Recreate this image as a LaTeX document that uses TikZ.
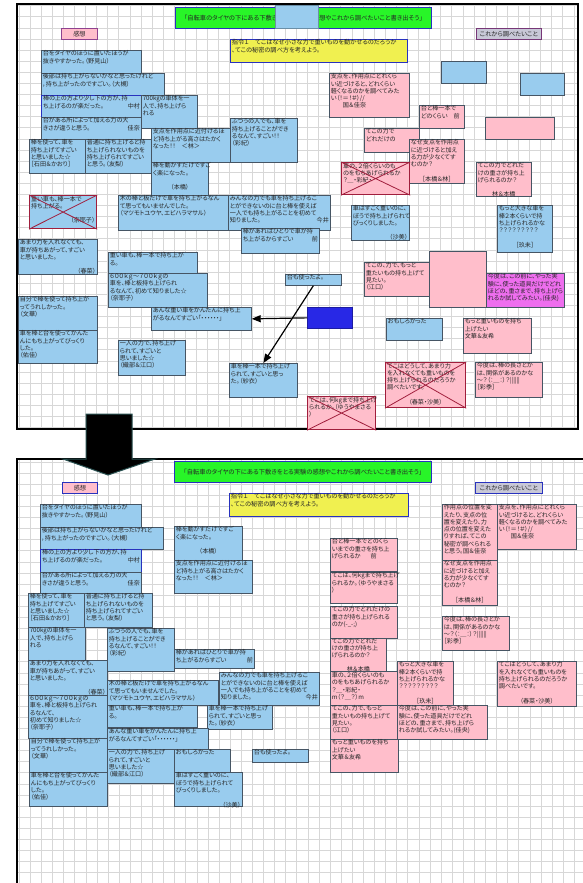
\documentclass[tikz,border=0pt]{standalone}
\usepackage{fontspec}
\usepackage{tikz}
\usetikzlibrary{arrows.meta}
\newfontfamily\jp[RawFeature=+palt]{Noto Sans CJK JP}
\definecolor{bluenote}{RGB}{153,204,238}
\definecolor{pinknote}{RGB}{255,190,203}
\definecolor{magnote}{RGB}{238,110,238}
\definecolor{notebd}{RGB}{70,85,100}
\definecolor{headbd}{RGB}{40,50,190}
\definecolor{titlegreen}{RGB}{40,245,40}
\definecolor{orderyellow}{RGB}{240,240,80}
\definecolor{koregray}{RGB}{200,200,215}
\definecolor{darkbox}{RGB}{40,40,230}
\definecolor{crossred}{RGB}{160,30,60}
\definecolor{gridgray}{RGB}{215,215,215}
\definecolor{arrowedge}{RGB}{40,80,80}
\tikzset{
    gridline/.style = {draw=gridgray, line width=0.5pt},
    note/.style = {draw=notebd, line width=0.7pt, text=black!85, font=\jp\fontsize{6.1}{7.3}\selectfont},
    bnote/.style = {note, fill=bluenote},
    bsel/.style = {bnote, draw=headbd, line width=1pt},
    pnote/.style = {note, fill=pinknote},
    mnote/.style = {note, fill=magnote},
    xbnote/.style = {bnote, draw=crossred, line width=1.2pt},
    xpnote/.style = {pnote, draw=crossred, line width=1.2pt},
    head/.style = {draw=headbd, line width=0.9pt, text=black!85, font=\jp\fontsize{6.2}{7.9}\selectfont},
    pointer/.style = {draw, line width=1.2pt, -{Triangle[length=9pt,width=7pt]}},
    cross/.style = {draw=crossred, line width=0.8pt},
}
% sticky note: style, name, x1, y1, x2, y2, text
\newcommand{\stick}[7]{%
    \node[#1, anchor=north west, inner sep=0pt,
          minimum width={#5pt-#3pt}, minimum height={#6pt-#4pt}] (#2) at (#3,#4)
        {\parbox[c][\dimexpr#6pt-#4pt\relax][t]{\dimexpr#5pt-#3pt-3pt\relax}{\raggedright\vspace*{0.3pt}#7}};}
% one-line heading box
\newcommand{\headbox}[7]{%
    \node[#1, anchor=north west, inner sep=0pt,
          minimum width={#5pt-#3pt}, minimum height={#6pt-#4pt}] (#2) at (#3,#4) {#7};}
\newcommand{\crossout}[1]{\draw[cross] (#1.north west) -- (#1.south east) (#1.north east) -- (#1.south west);}

\begin{document}
\begin{tikzpicture}[x=1pt, y=-1pt]
    \useasboundingbox (0,0) rectangle (583,883);
    \fill[white] (0,0) rectangle (583,883);

    % upper sheet (before)
    \begin{scope}
        \clip (17,4) rectangle (578,429);
        \foreach \k in {0,...,51} \draw[gridline] ({7.7+11.1*\k},4) -- ({7.7+11.1*\k},429);
        \foreach \k in {0,...,38} \draw[gridline] (17,{5.6+11.1*\k}) -- (578,{5.6+11.1*\k});
    \end{scope}
    \draw[line width=1.5pt] (17,4) rectangle (578,429);

    \headbox{head, fill=titlegreen, font=\jp\fontsize{6.3}{7.9}\selectfont}{ttitle}{175}{7}{431}{28}{「自転車のタイヤの下にある下敷きをとる実験の感想やこれから調べたいこと書き出そう」}
    \headbox{note, fill=bluenote, draw=bluenote!70!black}{tblank}{275}{5}{318}{28}{}
    \headbox{head, fill=pinknote, draw=magnote!60!black}{tkanso}{61}{28}{97}{39}{感想}
    \headbox{head, fill=koregray, draw=magnote!50!black}{tkore}{476}{28}{541}{39}{これから調べたいこと}
    \stick{head, fill=orderyellow}{tshirei}{230}{39}{407}{62}{指令１　てこはなぜ小さな力で重いものを動かせるのだろうか\\、てこの秘密の調べ方を考えよう。}

    \stick{bnote}{ta1}{41}{50}{141}{73}{台をタイヤのほうに置いたほうが\\抜きやすかった。（野見山）}
    \stick{bnote}{ta2}{41}{73}{164}{95}{後部は持ち上がらないかなと思ったけれど\\，持ち上がったのですごい。（大槻）}
    \stick{bsel}{ta3}{41}{95}{141}{117}{棒の上の方より少し下の方が、持\\ち上げるのが楽だった。\hfill 中村\hspace{4pt}}
    \stick{bnote}{ta4}{141}{95}{197}{128}{700kgの車体を一\\人で、持ち上げら\\れる}
    \stick{bnote}{ta5}{41}{117}{141}{139}{台がある所によって加える力の大\\きさが違うと思う。\hfill 佳奈\hspace{4pt}}
    \stick{bnote}{ta6}{29}{139}{85}{173}{棒を使って、車を\\持ち上げてすごい\\と思いました☆\\［石田＆かおり］}
    \stick{bnote}{ta7}{85}{139}{151}{173}{普通に持ち上げると持\\ち上げられないものを\\持ち上げられてすごい\\と思う。（友梨）}
    \stick{bnote}{ta8}{151}{128}{230}{162}{支点を作用点に近付けるほ\\ど持ち上がる高さはたかく\\なった！！　＜林＞}
    \stick{bnote}{ta9}{230}{118}{297}{162}{ふつうの人でも、車を\\持ち上げることができ\\るなんて、すごい！！\\（彩紀）}
    \stick{bnote}{ta10}{151}{162}{208}{197}{棒を動かすだけですご\\く楽になった。\\\null\hfill（本橋）\hfill\null}
    \stick{xbnote}{ta11}{29}{195}{96}{228}{重い車も、棒一本で\\持ち上がる。\\\null\hfill（奈耶子）}
    \crossout{ta11}
    \stick{bnote}{ta12}{118}{195}{228}{230}{木の棒と板だけで車を持ち上がるなん\\て思ってもいませんでした。\\（マツモトユウヤ、エビハラマサル）}
    \stick{bnote}{ta13}{228}{195}{330}{230}{みんなの力でも車を持ち上げるこ\\とができないのに台と棒を使えば\\一人でも持ち上がることを初めて\\知りました。\hfill 今井\hspace{6pt}}
    \stick{bnote}{ta14}{241}{228}{319}{253}{棒があればひとりで車が持\\ち上がるからすごい\hfill 前\hspace{4pt}}
    \stick{bnote}{ta15}{18}{239}{97}{274}{あまり力を入れなくても、\\車が持ちあがって、すごい\\と思いました。\\\null\hfill（春菜）\hspace{8pt}}
    \stick{bnote}{ta16}{108}{252}{197}{273}{重い車も、棒一本で持ち上が\\る。}
    \stick{bnote}{ta17}{108}{273}{207}{307}{６００ｋｇ～７００ｋｇの\\車を、棒と板持ち上げられ\\るなんて、初めて知りました☆\\（奈耶子）}
    \stick{bnote}{ta18}{151}{307}{251}{330}{あんな重い車をかんたんに持ち上\\がるなんてすごい「・・・・・・」}
    \stick{bnote}{ta19}{18}{296}{97}{330}{自分で棒を使って持ち上が\\ってうれしかった。\\（文華）}
    \stick{bnote}{ta20}{18}{330}{97}{363}{車を棒と台を使ってかんた\\んにもち上がってびっくり\\した。\\（佑佳）}
    \stick{bnote}{ta21}{118}{340}{185}{375}{一人の力で、持ち上げ\\られて、すごいと\\思いました☆\\（織部＆江口）}
    \stick{bnote}{ta22}{229}{363}{297}{397}{車を棒一本で持ち上げ\\られて、すごいと思っ\\た。（紗衣）}
    \stick{bnote}{ta23}{285}{274}{341}{285}{台も使ったよ。}
    \stick{bnote}{ta24}{351}{205}{409}{240}{車はすごく重いのに、\\ぼうで持ち上げられて\\びっくりしました。\\\null\hfill（沙美）}
    \stick{bnote}{ta25}{386}{318}{442}{340}{おもしろかった}
    \stick{bnote}{ta26}{497}{205}{552}{252}{もっと大きな車を\\棒２本くらいで持\\ち上げられるかな\\？？？？？？？？？\\\null\hfill［玖未］\hfill\null}
    \headbox{bnote}{ta27}{441}{61}{486}{83}{}
    \headbox{bnote}{ta28}{520}{73}{564}{95}{}
    \headbox{note, fill=darkbox, draw=darkbox!70!black}{tdark}{307}{307}{352}{328}{}

    \stick{pnote}{tp1}{329}{73}{409}{117}{支点を、作用点にどれくら\\い近づけると、どれくらい\\軽くなるのかを調べてみた\\い（！＝！＃）//\\\hspace{12pt}国＆佳奈}
    \stick{pnote}{tp2}{419}{105}{464}{128}{台と棒一本で\\どのくらい　前}
    \stick{pnote}{tp3}{364}{128}{419}{152}{てこの力で\\どれだけの}
    \stick{pnote}{tp4}{409}{139}{464}{183}{なぜ支点を作用点\\に近づけると加え\\る力が少なくてす\\むのか？\\\null\hfill［本橋＆林］\hfill\null}
    \stick{xpnote}{tp5}{341}{162}{409}{194}{車の、２倍くらいのも\\のをもちあげられるか\\？＿・彩紀・}
    \crossout{tp5}
    \headbox{pnote}{tp6}{485}{117}{554}{139}{}
    \stick{pnote}{tp7}{476}{162}{531}{196}{てこの力でどれだ\\けの重さが持ち上\\げられるのか？\\\null\hfill 林＆本橋\hfill\null}
    \stick{pnote}{tp8}{364}{262}{430}{296}{てこの、力で、もっと\\重たいもの持ち上げて\\見たい。\\（江口）}
    \headbox{pnote}{tp9}{429}{251}{486}{307}{}
    \stick{mnote}{tp10}{486}{273}{564}{307}{今度は、この前に、やった実\\験に、使った道具だけでどれ\\ほどの、重さまで、持ち上げら\\れるか試してみたい。(佳央)}
    \stick{pnote}{tp11}{463}{318}{531}{353}{もっと重いものを持ち\\上げたい\\文華＆友希}
    \stick{xpnote}{tp12}{385}{362}{465}{407}{てこはどうして、あまり力\\を入れなくても重いものを\\持ち上げられるのだろうか\\調べたいです。\\\null\hfill（春菜・沙美）\hfill\null}
    \crossout{tp12}
    \stick{pnote}{tp13}{475}{362}{542}{397}{今度は、棒の長さとか\\は、関係があるのかな\\～？（：＿：）？||||||\\［彩季］}
    \stick{xpnote}{tp14}{307}{396}{375}{429}{てこは、何kgまで持ち上げ\\られるか。（ゆうやまさる\\）}
    \crossout{tp14}

    \draw[pointer] (tdark.west) -- (ta18.east);
    \draw[pointer] (ta23.south) -- (ta22.north);

    % lower sheet (after)
    \begin{scope}
        \clip (17,459) rectangle (583,883);
        \foreach \k in {0,...,52} \draw[gridline] ({8.1+11.1*\k},459) -- ({8.1+11.1*\k},883);
        \foreach \k in {41,...,79} \draw[gridline] (17,{6.8+11.1*\k}) -- (583,{6.8+11.1*\k});
    \end{scope}
    \draw[line width=2pt] (17,883) -- (17,459) -- (583,459);

    \headbox{head, fill=titlegreen, font=\jp\fontsize{6.3}{7.9}\selectfont}{title}{174}{461}{431}{482}{「自転車のタイヤの下にある下敷きをとる実験の感想やこれから調べたいこと書き出そう」}
    \headbox{head, fill=pinknote}{kanso}{62}{482}{97}{493}{感想}
    \headbox{head, fill=koregray}{kore}{475}{482}{542}{493}{これから調べたいこと}
    \stick{head, fill=orderyellow}{shirei}{229}{493}{408}{516}{指令１　てこはなぜ小さな力で重いものを動かせるのだろうか\\、てこの秘密の調べ方を考えよう。}

    \stick{bnote}{b1}{40}{504}{141}{527}{台をタイヤのほうに置いたほうが\\抜きやすかった。（野見山）}
    \stick{bnote}{b2}{40}{527}{163}{549}{後部は持ち上がらないかなと思ったけれど\\，持ち上がったのですごい。（大槻）}
    \stick{bsel}{b3}{40}{549}{141}{572}{棒の上の方より少し下の方が、持\\ち上げるのが楽だった。\hfill 中村\hspace{4pt}}
    \stick{bnote}{b4}{40}{572}{141}{593}{台がある所によって加える力の大\\きさが違うと思う。\hfill 佳奈\hspace{4pt}}
    \stick{bnote}{b5}{28}{593}{84}{627}{棒を使って、車を\\持ち上げてすごい\\と思いました☆\\［石田＆かおり］}
    \stick{bnote}{b6}{84}{593}{152}{627}{普通に持ち上げると持\\ち上げられないものを\\持ち上げられてすごい\\と思う。（友梨）}
    \stick{bnote}{b7}{28}{627}{85}{660}{700kgの車体を一\\人で、持ち上げら\\れる}
    \stick{bnote}{b8}{107}{628}{174}{671}{ふつうの人でも、車を\\持ち上げることができ\\るなんて、すごい！！\\（彩紀）}
    \stick{bnote}{b9}{28}{660}{107}{695}{あまり力を入れなくても、\\車が持ちあがって、すごい\\と思いました。\\\null\hfill（春菜）\hspace{8pt}}
    \stick{bnote}{b10}{28}{695}{107}{738}{６００ｋｇ～７００ｋｇの\\車を、棒と板持ち上げられ\\るなんて、\\初めて知りました☆\\（奈耶子）}
    \stick{bnote}{b11}{174}{649}{254}{668}{棒があればひとりで車が持\\ち上がるからすごい\hfill 前\hspace{4pt}}
    \stick{bnote}{b12}{107}{680}{218}{705}{木の棒と板だけで車を持ち上がるなん\\て思ってもいませんでした。\\（マツモトユウヤ、エビハラマサル）}
    \stick{bnote}{b13}{219}{672}{319}{705}{みんなの力でも車を持ち上げるこ\\とができないのに台と棒を使えば\\一人でも持ち上がることを初めて\\知りました。\hfill 今井\hspace{8pt}}
    \stick{bnote}{b14}{107}{705}{197}{727}{重い車も、棒一本で持ち上が\\る。}
    \stick{bnote}{b15}{207}{705}{272}{729}{車を棒一本で持ち上げ\\られて、すごいと思っ\\た。（紗衣）}
    \stick{bnote}{b16}{107}{728}{208}{749}{あんな重い車をかんたんに持ち上\\がるなんてすごい「・・・・・・」}
    \stick{bnote}{b17}{29}{738}{107}{772}{自分で棒を使って持ち上が\\ってうれしかった。\\（文華）}
    \stick{bnote}{b18}{107}{749}{174}{783}{一人の力で、持ち上げ\\られて、すごいと\\思いました☆\\（織部＆江口）}
    \stick{bnote}{b19}{174}{749}{230}{772}{おもしろかった}
    \stick{bnote}{b20}{252}{749}{308}{762}{台も使ったよ。}
    \stick{bnote}{b21}{29}{772}{107}{806}{車を棒と台を使ってかんた\\んにもち上がってびっくり\\した。\\（佑佳）}
    \stick{bnote}{b22}{174}{772}{242}{806}{車はすごく重いのに、\\ぼうで持ち上げられて\\びっくりしました。\\\null\hfill（沙美）\hspace{6pt}}
    \stick{bnote}{b23}{174}{526}{242}{560}{棒を動かすだけですご\\く楽になった。\\\null\hfill（本橋）\hfill\null}
    \stick{bnote}{b24}{174}{560}{252}{593}{支点を作用点に近付けるほ\\ど持ち上がる高さはたかく\\なった！！　＜林＞}

    \stick{pnote}{p1}{330}{538}{397}{571}{台と棒一本でどのくら\\いまでの重さを持ち上\\げられるか\hspace{10pt}前}
    \stick{pnote}{p2}{330}{572}{397}{603}{てこは、何kgまで持ち上げ\\られるか。（ゆうやまさる\\）}
    \stick{pnote}{p3}{330}{606}{397}{638}{てこの力でどれだけの\\重さが持ち上げられる\\のか(-\_-;)}
    \stick{pnote, font=\jp\fontsize{6}{6.9}\selectfont}{p4}{330}{638}{386}{671}{てこの力でどれだ\\けの重さが持ち上\\げられるのか？\\\null\hfill 林＆本橋\hfill\null}
    \stick{pnote}{p5}{330}{671}{397}{705}{\vspace*{0.8pt}車の、２倍くらいのも\\のをもちあげられるか\\？＿・彩紀・\\m（？＿？）m}
    \stick{pnote}{p6}{397}{661}{453}{705}{もっと大きな車を\\棒２本くらいで持\\ち上げられるかな\\？？？？？？？？？\\\null\hfill［玖未］\hfill\null}
    \stick{pnote}{p7}{330}{705}{397}{739}{てこの、力で、もっと\\重たいもの持ち上げて\\見たい。\\（江口）}
    \stick{pnote}{p8}{397}{705}{487}{739}{今度は、この前に、やった実\\験に、使った道具だけでどれ\\ほどの、重さまで、持ち上げら\\れるか試してみたい。(佳央)}
    \stick{pnote}{p9}{330}{739}{398}{772}{もっと重いものを持ち\\上げたい\\文華＆友希}
    \stick{pnote}{p10}{442}{616}{509}{650}{今度は、棒の長さとか\\は、関係があるのかな\\～？（：＿：）？||||||\\［彩季］}
    \stick{pnote}{p11}{497}{661}{576}{706}{てこはどうして、あまり力\\を入れなくても重いものを\\持ち上げられるのだろうか\\調べたいです。\\\null\hfill（春菜・沙美）\hfill\null}
    \stick{pnote}{p12}{442}{504}{497}{560}{作用点の位置を変\\えたり、支点の位\\置を変えたり、力\\点の位置を変えた\\りすれば、てこの\\秘密が調べられる\\と思う。国＆佳奈}
    \stick{pnote}{p13}{497}{504}{576}{549}{支点を、作用点にどれくら\\い近づけると、どれくらい\\軽くなるのかを調べてみた\\い（！＝！＃）//\\\hspace{12pt}国＆佳奈}
    \stick{pnote}{p14}{442}{560}{497}{605}{なぜ支点を作用点\\に近づけると加え\\る力が少なくてす\\むのか？\\\null\hfill［本橋＆林］\hfill\null}

    % big arrow from the old sheet to the new one
    \filldraw[fill=black, draw=arrowedge, line width=1pt]
        (86,414) -- (132,414) -- (132,459) -- (155,459) -- (108,475) -- (63,459) -- (86,459) -- cycle;
\end{tikzpicture}
\end{document}
